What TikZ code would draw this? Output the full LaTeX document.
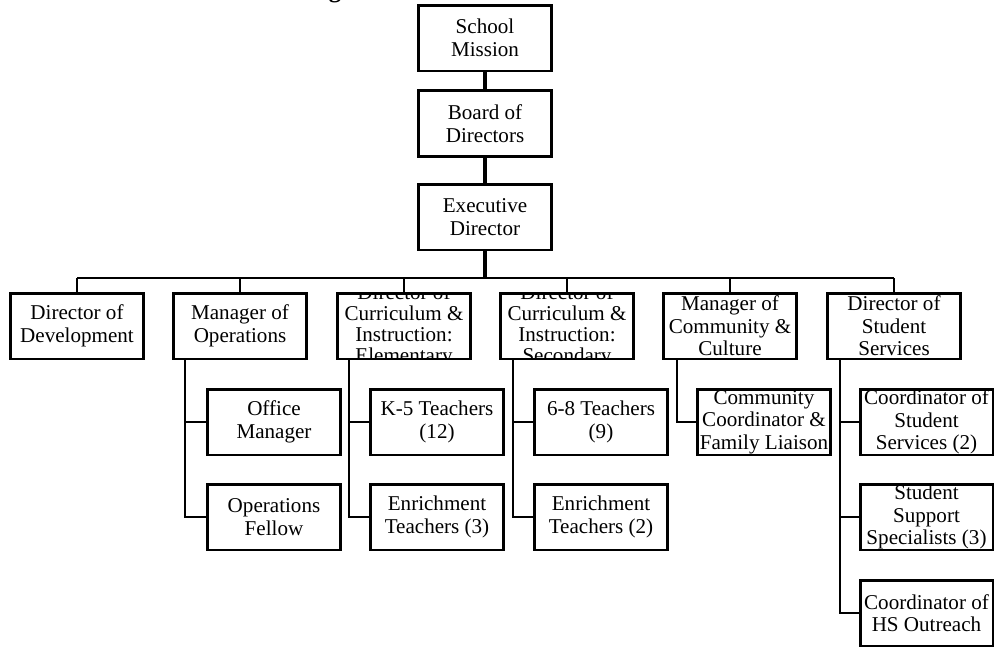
\documentclass[tikz,border=0pt]{standalone}
\usepackage{fontspec}
\setmainfont{Liberation Serif}
\begin{document}
\begin{tikzpicture}[x=0.02cm, y=-0.02cm,
  box/.style={draw, line width=1.7pt, minimum width=2.66cm, minimum height=1.32cm,
    align=center, inner sep=0pt, font=\fontsize{12}{12.8}\selectfont},
  link/.style={line width=1.5pt},
  thick link/.style={line width=2.2pt},
  busline/.style={line width=1.2pt},
  cliptext/.style={draw=none, align=center, inner sep=0pt, font=\fontsize{12}{12}\selectfont}
]
\clip (0,0) rectangle (1000,656);
\fill[white] (0,0) rectangle (1000,656);

% title fragment (cut off by the top edge)
\node[font=\bfseries\fontsize{14}{16}\selectfont, anchor=base, inner sep=0pt] (title) at (335,-2.5) {g};

% top chain
\node[box] (mission) at (485,38) {School\\Mission};
\node[box] (board) at (485,123.5) {Board of\\Directors};
\node[box] (exec) at (485,217) {Executive\\Director};

% second row
\node[box] (dev) at (77,326) {Director of\\Development};
\node[box] (ops) at (240,326) {Manager of\\Operations};
\node[box, path picture={\node[cliptext] at (path picture bounding box.center)
  {Director of\\Curriculum \&\\Instruction:\\Elementary};}] (elem) at (404,326) {};
\node[box, path picture={\node[cliptext] at (path picture bounding box.center)
  {Director of\\Curriculum \&\\Instruction:\\Secondary};}] (sec) at (567,326) {};
\node[box] (comm) at (730,326) {Manager of\\Community \&\\Culture};
\node[box] (ss) at (894,326) {Director of\\Student\\Services};

% children
\node[box] (om) at (274,422) {Office\\Manager};
\node[box] (of) at (274,517) {Operations\\Fellow};
\node[box] (k5) at (437,422) {K-5 Teachers\\(12)};
\node[box] (enr3) at (437,517) {Enrichment\\Teachers (3)};
\node[box] (t68) at (601,422) {6-8 Teachers\\(9)};
\node[box] (enr2) at (601,517) {Enrichment\\Teachers (2)};
\node[box] (ccfl) at (764,422) {Community\\Coordinator \&\\Family Liaison};
\node[box] (css) at (926.5,422) {Coordinator of\\Student\\Services (2)};
\node[box] (sss) at (926.5,517) {Student\\Support\\Specialists (3)};
\node[box] (hs) at (926.5,613) {Coordinator of\\HS Outreach};

% top connectors
\draw[thick link] (mission) -- (board);
\draw[thick link] (board) -- (exec);
\coordinate (bus) at (485,278);
\draw[thick link] (exec.south) -- (bus);
\draw[busline] (dev.north |- bus) -- (ss.north |- bus);
\foreach \n in {dev,ops,elem,sec,comm,ss}
  \draw[link] (\n.north) -- (\n.north |- bus);

% child connectors
\draw[link] ([xshift=0.26cm]ops.south west) |- (om.west);
\draw[link] ([xshift=0.26cm]ops.south west) |- (of.west);
\draw[link] ([xshift=0.26cm]elem.south west) |- (k5.west);
\draw[link] ([xshift=0.26cm]elem.south west) |- (enr3.west);
\draw[link] ([xshift=0.28cm]sec.south west) |- (t68.west);
\draw[link] ([xshift=0.28cm]sec.south west) |- (enr2.west);
\draw[link] ([xshift=0.3cm]comm.south west) |- (ccfl.west);
\draw[link] ([xshift=0.28cm]ss.south west) |- (css.west);
\draw[link] ([xshift=0.28cm]ss.south west) |- (sss.west);
\draw[link] ([xshift=0.28cm]ss.south west) |- (hs.west);
\end{tikzpicture}
\end{document}
